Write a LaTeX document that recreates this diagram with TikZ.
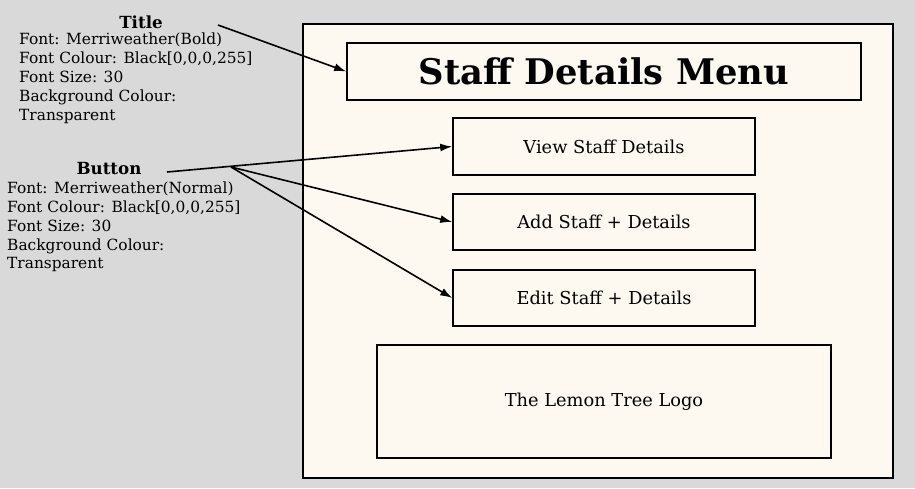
\documentclass[tikz,border=0pt]{standalone}
\usepackage{fontspec}
\setmainfont{DejaVu Serif}
\usetikzlibrary{arrows.meta}
\definecolor{bggray}{HTML}{D9D9D9}
\definecolor{paper}{HTML}{FDF9F1}
\tikzset{
  box/.style={draw=black, line width=1.5pt, fill=paper},
  info/.style={anchor=base west, inner sep=0pt, font=\fontsize{15.4}{18}\selectfont},
  head/.style={anchor=base, inner sep=0pt, font=\bfseries\fontsize{16.7}{20}\selectfont},
  btntext/.style={inner sep=0pt, font=\fontsize{17.8}{21}\selectfont},
  conn/.style={line width=1.6pt, -{Latex[length=12pt,width=8pt]}},
}
\begin{document}
\begin{tikzpicture}[x=1pt,y=-1pt]
\useasboundingbox (0,0) rectangle (915,488);
\fill[bggray] (0,0) rectangle (915,488);
% frame
\draw[box] (303,24) rectangle (893,478);
% boxes
\node[box, minimum width=514pt, minimum height=57pt, inner sep=0pt] (title) at (604,71.5) {};
\node[anchor=center, inner sep=0pt, font=\bfseries\fontsize{35.3}{40}\selectfont] (titletext) at (604,71.5) {Staff Details Menu};
\node[box, minimum width=302pt, minimum height=57pt, inner sep=0pt] (view) at (604,146.5) {};
\node[btntext] (viewtext) at (604,146.5) {View Staff Details};
\node[box, minimum width=302pt, minimum height=56pt, inner sep=0pt] (add) at (604,222) {};
\node[btntext] (addtext) at (604,222) {Add Staff + Details};
\node[box, minimum width=302pt, minimum height=56pt, inner sep=0pt] (edit) at (604,298) {};
\node[btntext] (edittext) at (604,298) {Edit Staff + Details};
\node[box, minimum width=454pt, minimum height=113pt, inner sep=0pt] (logo) at (604,401.5) {};
\node[btntext] (logotext) at (604,401.5) {The Lemon Tree Logo};
% Title info
\node[head] (thead) at (141,28) {Title};
\node[info] (t1) at (19,44) {Font: Merriweather(Bold)};
\node[info] (t2) at (19,63) {Font Colour: Black[0,0,0,255]};
\node[info] (t3) at (19,82) {Font Size: 30};
\node[info] (t4) at (19,101) {Background Colour:};
\node[info] (t5) at (19,120) {Transparent};
% Button info
\node[head] (bhead) at (109,174) {Button};
\node[info] (b1) at (7,193) {Font: Merriweather(Normal)};
\node[info] (b2) at (7,212) {Font Colour: Black[0,0,0,255]};
\node[info] (b3) at (7,231) {Font Size: 30};
\node[info] (b4) at (7,250) {Background Colour:};
\node[info] (b5) at (7,268) {Transparent};
% connectors
\coordinate (ts) at (218,25);
\coordinate (bs) at (167,172);
\coordinate (bj) at (231,167);
\draw[conn] (ts) -- (title.west);
\draw[conn] (bs) -- (view.west);
\draw[conn] (bj) -- (add.west);
\draw[conn] (bj) -- (edit.west);
\end{tikzpicture}
\end{document}
